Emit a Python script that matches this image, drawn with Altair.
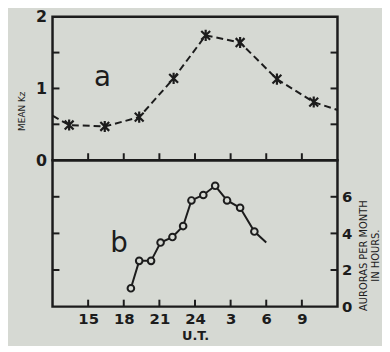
import altair as alt
import pandas as pd

# ---------------- data ----------------
# panel a: mean Kz versus U.T. (hours, 24+ = next day)
kz_hour = [13.4, 16.4, 19.3, 22.2, 24.9, 27.8, 30.9, 34.0]
kz_val = [0.49, 0.47, 0.60, 1.14, 1.74, 1.64, 1.13, 0.81]
# the dashed curve runs on to the panel edges
kz_edge_hour = [12.0, 36.0]
kz_edge_val = [0.62, 0.70]

# panel b: auroras per month in hours
aur_hour = [18.6, 19.3, 20.3, 21.1, 22.1, 23.0, 23.7, 24.7, 25.7, 26.7, 27.8, 29.0]
aur_val = [1.0, 2.5, 2.5, 3.5, 3.8, 4.4, 5.8, 6.1, 6.6, 5.8, 5.4, 4.1]
aur_end_hour = [30.0]
aur_end_val = [3.5]

x_ticks = [15, 18, 21, 24, 27, 30, 33]
x_tick_labels = ["15", "18", "21", "24", "3", "6", "9"]
kz_minor = [0.5, 1.0, 1.5]
kz_labels = [0, 1, 2]
aur_minor = [2, 4, 6]
aur_labels = [0, 2, 4, 6]

panel_letters = ["a", "b"]
letter_a_pos = [16.2, 1.15]
letter_b_pos = [17.6, 3.4]

# ---------------- style ----------------
INK = "#1c1c1c"
BG = "#d6d9d3"
W, H1, H2 = 288, 145, 148
TICK = 7

xscale = alt.Scale(domain=[12, 36], nice=False, zero=False)
kz_scale = alt.Scale(domain=[0, 2], nice=False)
aur_scale = alt.Scale(domain=[0, 8], nice=False)

x_label_expr = " : ".join(
    f"datum.value == {v} ? '{t}'" for v, t in zip(x_ticks, x_tick_labels)
) + " : ''"
kz_label_expr = " : ".join(f"datum.value == {v} ? '{v}'" for v in kz_labels) + " : ''"
aur_label_expr = " : ".join(f"datum.value == {v} ? '{v}'" for v in aur_labels) + " : ''"

kz_axis = alt.Axis(values=kz_labels, labelExpr=kz_label_expr, title="MEAN  Kz", orient="left",
                   domain=False, ticks=False, grid=False, labelOverlap=False, labelFlush=False,
                   labelFontSize=16, labelFontWeight="bold",
                   labelFont="DejaVu Sans", labelColor=INK, labelPadding=6,
                   titleFontSize=9, titleFont="DejaVu Sans", titleFontWeight="normal",
                   titleColor=INK, titlePadding=9, titleY=95)
aur_axis = alt.Axis(values=aur_labels, labelExpr=aur_label_expr,
                    title=["AURORAS PER MONTH", "IN HOURS."],
                    orient="right", domain=False, ticks=False, grid=False,
                    labelOverlap=False, labelFlush=False,
                    labelFontSize=15, labelFontWeight="bold", labelFont="DejaVu Sans",
                    labelColor=INK, labelPadding=4, titleFontSize=10,
                    titleFont="DejaVu Sans", titleFontWeight="normal", titleColor=INK,
                    titleAngle=270, titlePadding=5, titleLineHeight=12, titleY=96)
x_axis_b = alt.Axis(values=x_ticks, labelExpr=x_label_expr, title="U.T.", domain=False,
                    ticks=False, grid=False, labelOverlap=False, labelFlush=False,
                    labelFontSize=15, labelFontWeight="bold",
                    labelFont="DejaVu Sans", labelColor=INK, labelPadding=5,
                    titleFontSize=13, titleFontWeight="bold", titleFont="DejaVu Sans",
                    titleColor=INK, titlePadding=3)

asterisk = "M-1,-1L1,1M1,-1L-1,1M0,-1.25L0,1.25"

# ---------------- panel a ----------------
kz_pts = pd.DataFrame({"hour": kz_hour, "kz": kz_val})
kz_line = pd.concat([kz_pts, pd.DataFrame({"hour": kz_edge_hour, "kz": kz_edge_val})]).sort_values("hour")

xa = alt.X("hour:Q", scale=xscale, axis=None)
ya = alt.Y("kz:Q", scale=kz_scale, axis=kz_axis)

a_line = alt.Chart(kz_line).mark_line(strokeDash=[7, 4], strokeWidth=2, color=INK).encode(x=xa, y=ya)
a_pts = alt.Chart(kz_pts).mark_point(shape=asterisk, size=80, strokeWidth=2.2, filled=False,
                                     color=INK, opacity=1).encode(x=xa, y=ya)
a_xt = alt.Chart(pd.DataFrame({"hour": x_ticks})).mark_rule(color=INK, strokeWidth=2).encode(
    x=xa, y=alt.value(H1), y2=alt.value(H1 - TICK))
a_lt = alt.Chart(pd.DataFrame({"kz": kz_minor})).mark_rule(color=INK, strokeWidth=2).encode(
    y=ya, x=alt.value(0), x2=alt.value(TICK))
a_rt = alt.Chart(pd.DataFrame({"kz": kz_minor})).mark_rule(color=INK, strokeWidth=2).encode(
    y=ya, x=alt.value(W), x2=alt.value(W - TICK))
a_txt = alt.Chart(pd.DataFrame({"hour": [letter_a_pos[0]], "kz": [letter_a_pos[1]],
                                "t": [panel_letters[0]]})).mark_text(
    fontSize=28, font="DejaVu Sans", color=INK).encode(x=xa, y=ya, text="t:N")

top = alt.layer(a_line, a_pts, a_xt, a_lt, a_rt, a_txt).properties(width=W, height=H1)

# ---------------- panel b ----------------
aur_pts = pd.DataFrame({"hour": aur_hour, "aur": aur_val})
aur_line = pd.concat([aur_pts, pd.DataFrame({"hour": aur_end_hour, "aur": aur_end_val})]).sort_values("hour")

xb = alt.X("hour:Q", scale=xscale, axis=x_axis_b)
yb = alt.Y("aur:Q", scale=aur_scale, axis=aur_axis)

b_line = alt.Chart(aur_line).mark_line(strokeWidth=2, color=INK).encode(x=xb, y=yb)
b_pts = alt.Chart(aur_pts).mark_point(shape="circle", size=45, strokeWidth=2, filled=False,
                                      color=INK, fill=BG, fillOpacity=1, opacity=1).encode(x=xb, y=yb)
b_xt = alt.Chart(pd.DataFrame({"hour": x_ticks})).mark_rule(color=INK, strokeWidth=2).encode(
    x=xb, y=alt.value(H2), y2=alt.value(H2 - TICK))
b_lt = alt.Chart(pd.DataFrame({"aur": aur_minor})).mark_rule(color=INK, strokeWidth=2).encode(
    y=yb, x=alt.value(0), x2=alt.value(TICK))
b_rt = alt.Chart(pd.DataFrame({"aur": aur_minor})).mark_rule(color=INK, strokeWidth=2).encode(
    y=yb, x=alt.value(W), x2=alt.value(W - TICK))
b_txt = alt.Chart(pd.DataFrame({"hour": [letter_b_pos[0]], "aur": [letter_b_pos[1]],
                                "t": [panel_letters[1]]})).mark_text(
    fontSize=28, font="DejaVu Sans", color=INK).encode(x=xb, y=yb, text="t:N")

bottom = alt.layer(b_line, b_pts, b_xt, b_lt, b_rt, b_txt).properties(width=W, height=H2)

chart = alt.vconcat(top, bottom, spacing=0, bounds="flush").properties(
    padding={"left": 8, "top": -3, "right": 0, "bottom": 0}
).configure(background=BG).configure_view(stroke=INK, strokeWidth=2.5)

chart.save("out.html", embed_options={"renderer": "svg", "actions": False})
